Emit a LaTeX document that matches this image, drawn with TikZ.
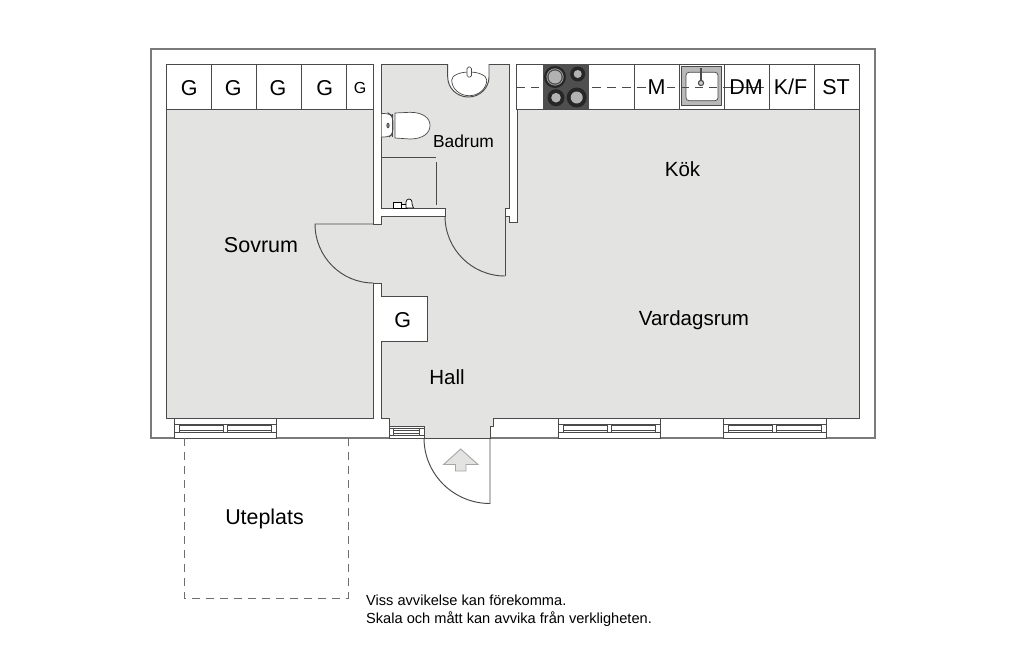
\documentclass[tikz,border=0pt]{standalone}
\usepackage{fontspec}
\setmainfont{Liberation Sans}
\definecolor{floorc}{HTML}{E3E3E2}
\definecolor{linec}{HTML}{4A4A4A}
\definecolor{wallc}{HTML}{7A7A7A}
\definecolor{stovec}{HTML}{4F4F4F}
\tikzset{
  plan/.style={line width=0.95pt,draw=linec},
  thin plan/.style={line width=0.7pt,draw=linec},
  cabinet/.style={draw=linec,line width=0.9pt,fill=white,inner sep=0pt,minimum height=45.4pt,text=black},
  cablabel/.style={font=\fontsize{21.5}{22}\selectfont,text=black,inner sep=0pt},
  smalllabel/.style={font=\fontsize{16}{17}\selectfont,text=black,inner sep=0pt},
  room/.style={font=\fontsize{20.5}{22}\selectfont,text=black,inner sep=0pt},
  note/.style={font=\fontsize{14.6}{18.2}\selectfont,text=black,inner sep=0pt,align=left,anchor=north west},
  burner/.style={draw=none,fill=#1,circle,inner sep=0pt},
}
\newcommand{\planwindow}[2]{%
  \draw[thin plan,fill=white] (#1,418) rectangle (#2,438);
  \draw[thin plan] (#1,424) -- (#2,424) (#1,432) -- (#2,432);
  \draw[thin plan] (#1+5,424) -- (#1+5,432)
     (#1+49,424) -- (#1+49,432) (#1+53,424) -- (#1+53,432)
     (#2-5,424) -- (#2-5,432);
  \draw[thin plan] (#1+5,425.6) -- (#1+49,425.6) (#1+53,425.6) -- (#2-5,425.6)
     (#1+5,430.4) -- (#1+49,430.4) (#1+53,430.4) -- (#2-5,430.4);
}
\begin{document}
\begin{tikzpicture}[x=1pt,y=-1pt]
\useasboundingbox (0,0) rectangle (1024,646);
\fill[white] (0,0) rectangle (1024,646);
% outer wall
\draw[line width=1.4pt,draw=wallc] (151,49) rectangle (875,438);
% floor
\draw[plan,fill=floorc,line join=miter]
 (381.5,64) -- (509,64) -- (509,208) -- (505,208) -- (505,216) -- (509,216) -- (509,222)
 -- (517,222) -- (517,109) -- (859,109) -- (859,418) -- (493,418) -- (493,426) -- (490,426)
 -- (490,438) -- (424,438) -- (424,426) -- (389,426) -- (389,418) -- (381.5,418)
 -- (381.5,341) -- (427,341) -- (427,296) -- (381.5,296) -- (381.5,283) -- (373.5,283)
 -- (373.5,418) -- (166,418) -- (166,109) -- (373.5,109) -- (373.5,224) -- (381.5,224)
 -- (381.5,216) -- (445,216) -- (445,208) -- (381.5,208) -- cycle;
% cabinets
\node[cabinet,minimum width=45pt] (g1) at (188.5,86.7) {};
\node[cabinet,minimum width=45pt] (g2) at (233.5,86.7) {};
\node[cabinet,minimum width=45pt] (g3) at (278.5,86.7) {};
\node[cabinet,minimum width=45pt] (g4) at (323.5,86.7) {};
\node[cabinet,minimum width=27.5pt] (g5) at (359.7,86.7) {};
\node[cabinet,minimum width=117.5pt] (c0) at (575.5,86.7) {};
\node[cabinet,minimum width=45pt] (cm) at (656.5,86.7) {};
\node[cabinet,minimum width=45pt] (cs) at (701.5,86.7) {};
\node[cabinet,minimum width=45pt] (cd) at (746.5,86.7) {};
\node[cabinet,minimum width=45pt] (ck) at (791.5,86.7) {};
\node[cabinet,minimum width=45pt] (ct) at (836.5,86.7) {};
% stove
\fill[stovec] (543,64.3) rectangle (589,109.3);
\node[burner=black!85,minimum size=22pt] (b1) at (555,77) {};
\draw[gray!75,line width=.8pt,fill=gray!55!black] (555,77) circle (8.2);
\fill[gray!60] (555,77) circle (6.5);
\node[burner=black!85,minimum size=15pt] (b2) at (577.7,74) {};
\fill[gray!60] (577.7,74) circle (4);
\node[burner=black!85,minimum size=17pt] (b3) at (556,97.7) {};
\fill[gray!60] (556,97.7) circle (4.8);
\node[burner=black!85,minimum size=20pt] (b4) at (576.7,97.5) {};
\fill[gray!60] (576.7,97.5) circle (6);
% sink
\draw[line width=.8pt,draw=linec,fill=gray!55] (681,66.7) rectangle (721.7,105);
\draw[line width=.7pt,draw=linec,fill=white,rounded corners=3pt] (686,72.3) rectangle (718,100.7);
\draw[line width=1.1pt,draw=linec] (701,68) -- (701,82);
\draw[line width=1.1pt,draw=linec,fill=gray!40] (701,83) circle (2.6);
% worktop dashed line
\draw[line width=.8pt,draw=linec,dash pattern=on 8pt off 6pt] (517,87) -- (543,87);
\draw[line width=.8pt,draw=linec,dash pattern=on 9.5pt off 5.5pt] (591.5,87) -- (646,87);
\draw[line width=.8pt,draw=linec,dash pattern=on 8pt off 6pt] (667,87) -- (730,87);
\draw[line width=.8pt,draw=linec] (730,87) -- (764,87);
% cabinet labels
\node[cablabel] (lg1) at (189.3,88.5) {G};
\node[cablabel] (lg2) at (233.3,88.5) {G};
\node[cablabel] (lg3) at (278,88.5) {G};
\node[cablabel] (lg4) at (324.8,88.5) {G};
\node[smalllabel] (lg5) at (360,87.5) {G};
\node[cablabel] (lm) at (656.5,87) {M};
\node[cablabel] (ld) at (746,87) {DM};
\node[cablabel] (lk) at (790.5,87) {K/F};
\node[cablabel] (ls) at (836,87) {ST};
% hall closet label
\node[cablabel] (lg6) at (402.8,320) {G};
% sink bathroom
\draw[plan,fill=white] (447.7,64) -- (447.7,77) arc[start angle=180,end angle=0,x radius=20.65,y radius=20] -- (489,64);
\draw[thin plan,fill=white] (451.7,80) arc[start angle=180,end angle=0,x radius=17.5,y radius=15.7]
  arc[start angle=0,end angle=-180,x radius=17.5,y radius=8] -- cycle;
\draw[thin plan,fill=white,rounded corners=1.5pt] (467,67) rectangle (471.5,77);
% toilet
\draw[thin plan,fill=white,rounded corners=5pt] (381.7,113.5) -- (389,113.5) -- (393,116) -- (393,134) -- (389,137) -- (381.7,137);
\draw[thin plan,fill=white] (395,113) -- (410,112.3) .. controls (423,112.3) and (430,118) .. (430,125.5)
  .. controls (430,133) and (423,139) .. (410,139) -- (395,138) -- cycle;
\draw[thin plan] (392.5,114) -- (392.5,137);
\draw[thin plan,fill=gray] (388,125.5) ellipse (1.2 and 2.4);
% shower
\draw[thin plan] (381.5,157.3) -- (436,157.3);
\draw[thin plan] (436,162) -- (436,205);
% tap
\draw[line width=.7pt,draw=black,fill=white] (393.5,202) rectangle (401,208);
\draw[line width=.7pt,draw=black,fill=white] (401,204) rectangle (407,208);
\draw[line width=.7pt,draw=black,fill=white] (406,208) -- (406,202) arc[start angle=180,end angle=360,radius=3] -- (412,204) -- (413.5,208) -- cycle;
% doors
\draw[plan] (505,216) -- (505,276);
\draw[plan] (445,216) arc[start angle=180,end angle=90,x radius=60,y radius=60];
\draw[plan] (373.5,224) -- (315,224) arc[start angle=180,end angle=90,x radius=58.5,y radius=59];
\draw[plan] (490,438) -- (490,503.5) arc[start angle=90,end angle=180,x radius=66,y radius=65.5];
% windows
\planwindow{174}{276.5}
\planwindow{558}{660}
\planwindow{723.5}{826.5}
\draw[thin plan,fill=white] (389,426) rectangle (424,438);
\draw[thin plan] (389,428.5) -- (424,428.5) (389,435.5) -- (424,435.5)
  (393.5,428.5) -- (393.5,435.5) (419,428.5) -- (419,435.5) (393.5,430.5) -- (419,430.5) (393.5,433.5) -- (419,433.5);
% arrow
\draw[line width=.9pt,draw=gray!70,fill=floorc] (460.7,449) -- (478,464.5) -- (466,464.5) -- (466,471) -- (455.5,471) -- (455.5,464.5) -- (443.5,464.5) -- cycle;
% patio
\draw[line width=.9pt,draw=linec!80,dash pattern=on 8pt off 6pt] (184,438) -- (184,598) -- (348,598) -- (348,438);
% room names
\node[room,font=\fontsize{21.5}{22}\selectfont] (sovrum) at (261,245) {Sovrum};
\node[room,font=\fontsize{17.4}{18}\selectfont] (badrum) at (463.5,141) {Badrum};
\node[room] (kok) at (682.5,169) {Kök};
\node[room] (vardagsrum) at (694,320) {Vardagsrum};
\node[room] (hall) at (447,377) {Hall};
\node[room,font=\fontsize{21.4}{22}\selectfont] (uteplats) at (264.5,519) {Uteplats};
\node[note] (notetext) at (366,594.5) {Viss avvikelse kan förekomma.\\Skala och mått kan avvika från verkligheten.};
\end{tikzpicture}
\end{document}
